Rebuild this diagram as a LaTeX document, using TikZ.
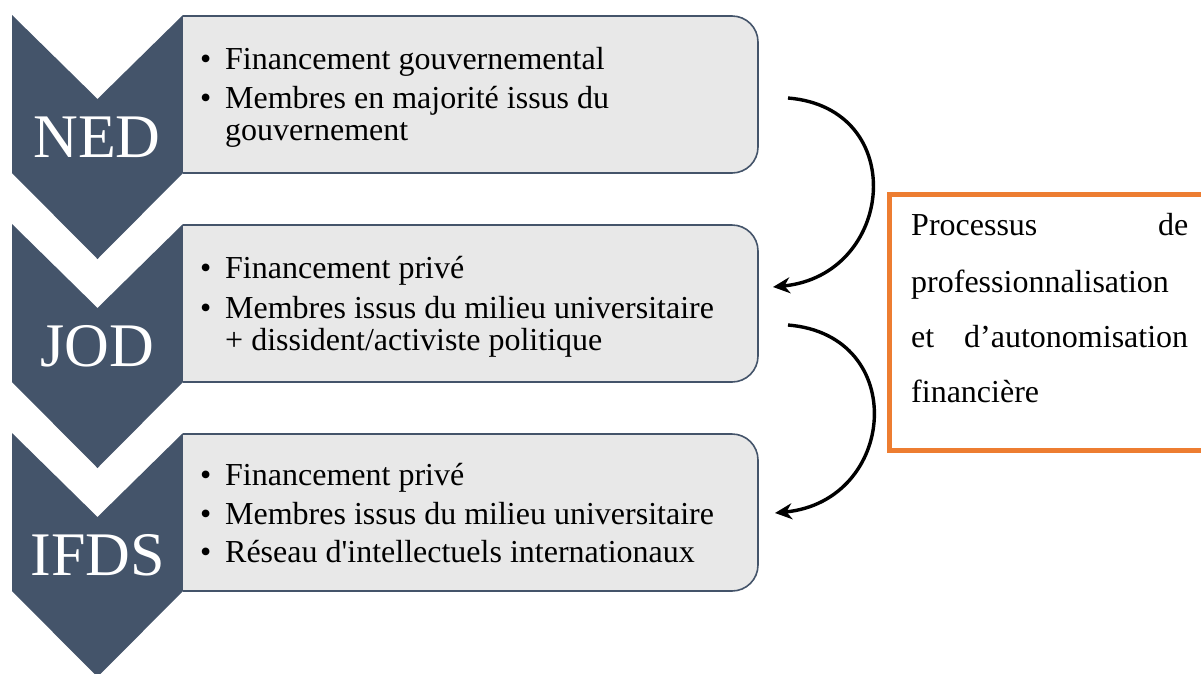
\documentclass[tikz,border=0pt]{standalone}
\usepackage{fontspec}
\setmainfont{Liberation Serif}
\usetikzlibrary{arrows.meta}
\definecolor{chev}{HTML}{44546A}
\definecolor{boxfill}{HTML}{E8E8E8}
\definecolor{orng}{HTML}{ED7D31}
\newcommand{\bul}{\makebox[25pt][l]{\textbullet}}
\begin{document}
\begin{tikzpicture}[x=1pt,y=-1pt,
  chevst/.style={fill=chev, draw=none},
  boxst/.style={fill=boxfill, draw=chev, line width=1.6pt, rounded corners=26pt},
  lab/.style={text=white, font=\fontsize{62}{62}\selectfont, inner sep=0pt, anchor=base},
  itm/.style={font=\fontsize{32}{32}\selectfont, inner sep=0pt, anchor=base west},
  ptxt/.style={font=\fontsize{32}{32}\selectfont, inner sep=0pt, anchor=base west},
  arr/.style={-{Stealth[length=17pt,width=16pt]}, line width=3.4pt},
  obox/.style={draw=orng, line width=5pt}
]
\useasboundingbox (0,0) rectangle (1201,673);

% chevrons and boxes
\foreach \t in {15,224,433}{
  \fill[chevst] (12,\t) -- (97.5,\t+84) -- (183,\t) -- (183,\t+158) -- (97.5,\t+244) -- (12,\t+158) -- cycle;
  \begin{scope}
    \clip (183,\t-5) rectangle (800,\t+165);
    \draw[boxst] (150,\t+1) rectangle (758,\t+158);
  \end{scope}
}

% chevron labels
\node[lab] (ned) at (97,157) {NED};
\node[lab] (jod) at (97,366) {JOD};
\node[lab] (ifds) at (98,575) {IFDS};

% box texts
\node[itm] (t1a) at (200,69) {\bul Financement gouvernemental};
\node[itm] (t1b) at (200,108) {\bul Membres en majorité issus du};
\node[itm] (t1c) at (225,140) {gouvernement};
\node[itm] (t2a) at (200,278) {\bul Financement privé};
\node[itm] (t2b) at (200,318) {\bul Membres issus du milieu universitaire};
\node[itm] (t2c) at (225,350) {+ dissident/activiste politique};
\node[itm] (t3a) at (200,485) {\bul Financement privé};
\node[itm] (t3b) at (200,524) {\bul Membres issus du milieu universitaire};
\node[itm] (t3c) at (200,562) {\bul Réseau d\textquotesingle intellectuels internationaux};

% orange box
\draw[obox] (889.5,194) rectangle (1240,450.5);
\node[ptxt] (p1) at (911,235) {\hbox to 277pt{Processus\hfil de}};
\node[ptxt] (p2) at (911,292) {professionnalisation};
\node[ptxt] (p3) at (911,347) {\hbox to 277pt{et\hfil d’autonomisation}};
\node[ptxt] (p4) at (911,402) {financière};

% arrows
\coordinate (a1s) at (788,98);
\coordinate (a1e) at (773,287);
\coordinate (a2s) at (788,325);
\coordinate (a2e) at (775,513);
\draw[arr] (a1s) .. controls (910,108) and (895,275) .. (a1e);
\draw[arr] (a2s) .. controls (910,335) and (897,501) .. (a2e);
\end{tikzpicture}
\end{document}
